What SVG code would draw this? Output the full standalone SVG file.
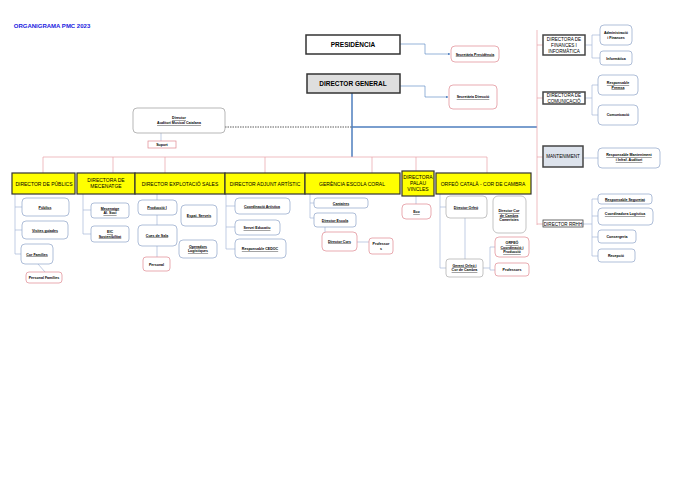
<svg xmlns="http://www.w3.org/2000/svg" width="680" height="480" viewBox="0 0 680 480">
<style>
text{font-family:"Liberation Sans",Arial,sans-serif;font-weight:bold;text-anchor:middle;fill:#000}
.s{font-size:3.6px;text-decoration:underline}
.n{font-size:3.6px}
.y{fill:#ffff00;stroke:#333;stroke-width:1.2}
.yt{font-size:5px;font-weight:normal}
.c{fill:#fff;stroke:#8ea4c8;stroke-width:0.7}
.p{fill:#fff;stroke:#e08890;stroke-width:0.7}
.g{fill:#fff;stroke:#333;stroke-width:1.5}
.gt{font-size:4.6px;font-weight:normal}
.bl{stroke:#4f7fbf;fill:none;stroke-width:1.5}
.tl{stroke:#4f7fbf;fill:none;stroke-width:0.6}
.rl{stroke:#e8a0a8;fill:none;stroke-width:0.7}
.ll{stroke:#a8b8d8;fill:none;stroke-width:0.7}
</style>
<defs><marker id="a" markerWidth="4" markerHeight="4" refX="3.5" refY="2" orient="auto"><path d="M0,0L4,2L0,4z" fill="#4f7fbf"/></marker></defs>
<rect width="680" height="480" fill="#fff"/>
<text x="52" y="28" style="font-size:6px;fill:#2020e0">ORGANIGRAMA PMC 2023</text>
<g id="connectors">
<path class="tl" d="M400,44H425V54H450" marker-end="url(#a)"/>
<path class="tl" d="M400,86H425V97H448" marker-end="url(#a)"/>
<path class="bl" d="M352,93V157M352,127H537"/>
<path d="M225,127H352" stroke="#333" stroke-width="0.8" stroke-dasharray="1.5,1"/>
<path class="ll" d="M161,133V141"/>
<path class="rl" d="M43,157H487M43,157V173M113,157V173M165,157V173M265,157V173M372,157V173M416,157V171M487,157V173"/>
<path class="rl" d="M537,30V225M537,45H543M537,98H543M537,157H543M537,224H543"/>
<path class="ll" d="M585,45H592M592,35V58M592,35H600M592,58H600M585,98H592M592,85V115M592,85H598M592,115H598M583,158H598M583,224H592M592,199V256M592,199H598M592,216H598M592,237H598M592,256H598"/>
<path class="ll" d="M15,194V254M15,207H22M15,230H22M15,254H21M38,264L45,272M83,194V234M83,210H91M83,234H91M157,194V257M226,194V249M226,206H235M226,227H235M226,249H235M310,194V218M310,203H314M310,218H314M325,227V242M357,242H369M416,196V204M440,194V268M440,207H446M440,268H446M465,218V259M483,268H490M490,247V270M490,247H495M490,270H495"/>
</g>
<g id="presidencia"><rect x="306" y="35" width="94" height="19" class="g"/><text x="353" y="47" style="font-size:6.5px">PRESIDÈNCIA</text></g>
<g id="secpres"><rect x="451" y="46" width="48" height="16" rx="4" class="p"/><text x="475" y="55.5" class="s">Secretària Presidència</text></g>
<g id="dg"><rect x="307" y="74" width="93" height="19" class="g" style="fill:#dedede"/><text x="353" y="86" style="font-size:6.5px">DIRECTOR GENERAL</text></g>
<g id="secdir"><rect x="449" y="85" width="48" height="24" rx="4" class="p"/><text x="473" y="98" class="s">Secretària Direcció</text></g>
<g id="auditori"><rect x="133" y="108" width="92" height="25" rx="4" class="c" style="stroke:#999"/><text x="179" y="119" class="s">Director</text><text x="179" y="124" class="s">Auditori Musical Catalana</text></g>
<g id="suport"><rect x="148" y="141" width="28" height="7" class="p"/><text x="162" y="146" class="n">Suport</text></g>
<g id="publics"><rect x="12" y="173" width="63" height="21" class="y"/><text x="44" y="185.5" class="yt">DIRECTOR DE PÚBLICS</text></g>
<g id="mecenatge"><rect x="77" y="173" width="58" height="21" class="y"/><text x="106" y="182" class="yt">DIRECTORA DE</text><text x="106" y="188" class="yt">MECENATGE</text></g>
<g id="explotacio"><rect x="135" y="173" width="90" height="21" class="y"/><text x="180" y="185.5" class="yt">DIRECTOR EXPLOTACIÓ SALES</text></g>
<g id="adjunt"><rect x="225" y="173" width="80" height="21" class="y"/><text x="265" y="185.5" class="yt">DIRECTOR ADJUNT ARTÍSTIC</text></g>
<g id="gerencia"><rect x="305" y="173" width="95" height="21" class="y"/><text x="352" y="185.5" class="yt">GERÈNCIA ESCOLA CORAL</text></g>
<g id="palau"><rect x="402" y="171" width="32" height="25" class="y"/><text x="418" y="179" class="yt">DIRECTORA</text><text x="418" y="185" class="yt">PALAU</text><text x="418" y="191" class="yt">VINCLES</text></g>
<g id="orfeo"><rect x="436" y="173" width="95" height="21" class="y"/><text x="483" y="185.5" class="yt">ORFEÓ CATALÀ - COR DE CAMBRA</text></g>
<g id="finances"><rect x="543" y="35" width="42" height="20" class="g" style="stroke:#444"/><text x="564" y="41" class="gt">DIRECTORA DE</text><text x="564" y="47" class="gt">FINANCES I</text><text x="564" y="53" class="gt">INFORMÀTICA</text></g>
<g id="comunic"><rect x="543" y="92" width="42" height="12" class="g" style="stroke:#444"/><text x="564" y="97" class="gt">DIRECTORA DE</text><text x="564" y="103" class="gt">COMUNICACIÓ</text></g>
<g id="mant"><rect x="543" y="146" width="40" height="21" class="g" style="fill:#dde3ec;stroke:#444"/><text x="563" y="158" class="gt">MANTENIMENT</text></g>
<g id="rrhh"><rect x="543" y="220" width="40" height="7" class="g" style="stroke:#444;stroke-width:0.8"/><text x="563" y="225.5" class="gt">DIRECTOR RRHH</text></g>
<g id="admin"><rect x="600" y="25" width="32" height="20" rx="4" class="c"/><text x="616" y="34" class="n">Administració</text><text x="616" y="38.5" class="n">i Finances</text></g>
<g id="info"><rect x="600" y="51" width="32" height="14" rx="3" class="c"/><text x="616" y="59.5" class="n">Informàtica</text></g>
<g id="premsa"><rect x="598" y="75" width="40" height="20" rx="4" class="c"/><text x="618" y="84" class="s">Responsable</text><text x="618" y="88.5" class="s">Premsa</text></g>
<g id="comu2"><rect x="598" y="105" width="40" height="20" rx="4" class="c"/><text x="618" y="116" class="n">Comunicació</text></g>
<g id="respmant"><rect x="598" y="148" width="62" height="20" rx="4" class="c"/><text x="629" y="156" class="s">Responsable Manteniment</text><text x="629" y="161" class="s">i Infraf. Auditori</text></g>
<g id="segur"><rect x="598" y="194" width="54" height="10" rx="3" class="c"/><text x="625" y="200.5" class="s">Responsable Seguretat</text></g>
<g id="logist"><rect x="598" y="208" width="55" height="17" rx="4" class="c"/><text x="625" y="215" class="s">Coordinadora Logística</text></g>
<g id="conser"><rect x="598" y="230" width="38" height="13" rx="3" class="c"/><text x="617" y="238" class="n">Consergeria</text></g>
<g id="recep"><rect x="598" y="249" width="37" height="13" rx="3" class="c"/><text x="616" y="257" class="n">Recepció</text></g>
<g id="pub1"><rect x="22" y="198" width="47" height="18" rx="4" class="c"/><text x="45" y="208.5" class="s">Públics</text></g>
<g id="pub2"><rect x="22" y="221" width="46" height="18" rx="4" class="c"/><text x="45" y="231.5" class="s">Visites guiades</text></g>
<g id="pub3"><rect x="21" y="244" width="32" height="20" rx="4" class="c"/><text x="37" y="255.5" class="s">Cor Famílies</text></g>
<g id="pub4"><rect x="26" y="272" width="36" height="11" rx="3" class="p"/><text x="44" y="279" class="n">Personal Famílies</text></g>
<g id="mec1"><rect x="91" y="203" width="38" height="15" rx="3" class="c"/><text x="110" y="209.5" class="s">Mecenatge</text><text x="110" y="214" class="s">Al. Soci</text></g>
<g id="mec2"><rect x="91" y="226" width="38" height="16" rx="3" class="c"/><text x="110" y="233" class="s">EIC</text><text x="110" y="237.5" class="s">Sostenibilitat</text></g>
<g id="exp1"><rect x="138" y="200" width="39" height="15" rx="4" class="c"/><text x="157" y="208.5" class="s">Producció I</text></g>
<g id="exp2"><rect x="181" y="205" width="36" height="21" rx="4" class="c"/><text x="199" y="216.5" class="s">Espai. Serveis</text></g>
<g id="exp3"><rect x="138" y="225" width="39" height="21" rx="4" class="c"/><text x="157" y="236.5" class="s">Cues de Sala</text></g>
<g id="exp4"><rect x="179" y="240" width="38" height="18" rx="4" class="c"/><text x="198" y="247.5" class="s">Operadors</text><text x="198" y="252" class="s">Logístiques</text></g>
<g id="exp5"><rect x="143" y="257" width="27" height="14" rx="3" class="p"/><text x="156.5" y="265.5" class="n">Personal</text></g>
<g id="adj1"><rect x="235" y="198" width="55" height="16" rx="4" class="c"/><text x="262" y="207.5" class="s">Coordinació Artística</text></g>
<g id="adj2"><rect x="235" y="220" width="45" height="15" rx="4" class="c"/><text x="257" y="229" class="s">Servei Educatiu</text></g>
<g id="adj3"><rect x="235" y="239" width="51" height="19" rx="4" class="c"/><text x="260" y="250" class="s">Responsable CEDOC</text></g>
<g id="ger1"><rect x="314" y="198" width="54" height="10" rx="3" class="c"/><text x="341" y="204.5" class="s">Cantaires</text></g>
<g id="ger2"><rect x="314" y="213" width="42" height="14" rx="3" class="c"/><text x="335" y="221.5" class="s">Director Escola</text></g>
<g id="ger3"><rect x="322" y="232" width="35" height="19" rx="4" class="p"/><text x="339.5" y="242.5" class="s">Director Cors</text></g>
<g id="ger4"><rect x="369" y="238" width="24" height="16" rx="3" class="p"/><text x="381" y="245" class="n">Professor</text><text x="381" y="249.5" class="n">s</text></g>
<g id="pal1"><rect x="402" y="204" width="29" height="15" rx="4" class="p"/><text x="416.5" y="213" class="s">Eco</text></g>
<g id="orf1"><rect x="446" y="196" width="41" height="22" rx="4" class="c" style="stroke:#aaa"/><text x="466" y="208.5" class="s">Director Orfeó</text></g>
<g id="orf2"><rect x="493" y="196" width="33" height="37" rx="5" class="c" style="stroke:#aaa"/><text x="509" y="212" class="s">Director Cor</text><text x="509" y="216.5" class="s">de Cambra</text><text x="509" y="221" class="n">Cameristes</text></g>
<g id="orf3"><rect x="495" y="237" width="34" height="20" rx="4" class="p"/><text x="512" y="244" class="s">ORFEÓ</text><text x="512" y="248.5" class="s">Coordinació i</text><text x="512" y="253" class="s">Producció</text></g>
<g id="orf4"><rect x="446" y="259" width="37" height="18" rx="3" class="c" style="stroke:#aaa"/><text x="464.5" y="266.5" class="s">Gerent Orfeó i</text><text x="464.5" y="271" class="s">Cor de Cambra</text></g>
<g id="orf5"><rect x="495" y="263" width="34" height="13" rx="3" class="p"/><text x="512" y="271" class="n">Professors</text></g>
</svg>
